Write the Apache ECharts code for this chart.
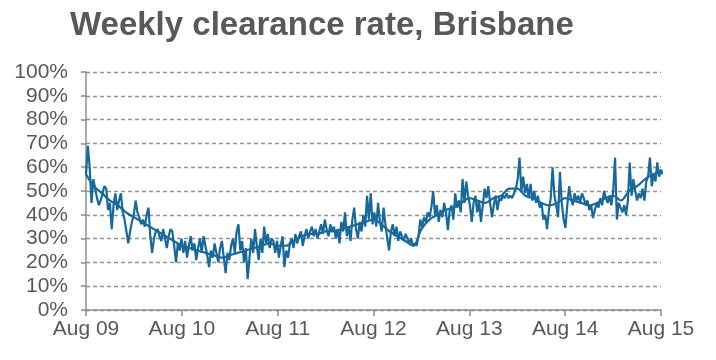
<!DOCTYPE html>
<html>
<head>
<meta charset="utf-8">
<script src="https://cdn.jsdelivr.net/npm/echarts@6/dist/echarts.min.js"></script>
<style>html,body{margin:0;padding:0;background:#fff;}#c{width:716px;height:360px;}</style>
</head>
<body>
<div id="c"></div>
<script>
// X tick labels (one per year, Aug 2009 .. Aug 2015)
const tickLabels = ['Aug 09','Aug 10','Aug 11','Aug 12','Aug 13','Aug 14','Aug 15'];
const weeksPerYear = 52.17;
const monthsPerYear = 12;

// Weekly clearance rate (%), Brisbane, weekly from Aug 2009
const weeklyRate = [
  57,69,60,45,55,51,47,44,46,49,52,51,42,
  45,34,44,49,42,46,49,41,38,33,28,33,37,
  40,46,41,39,36,38,35,40,43,31,24,30,33,
  34,31,29,34,30,26,31,34,33,27,20,28,25,
  30,24,29,22,27,31,25,28,21,26,30,24,31,
  27,23,18,25,22,28,24,20,26,29,22,15.5,24,
  21,27,30,24,33,36,25,29,20,26,13,22,30,
  24,34,27,21,30,24,35,28,32,26,30,29,24,
  29,22,27,31,18,25,22,28,30,26,32,28,31,
  33,27,31,34,30,33,35,31,34,30,33,36,32,
  38,34,31,36,33,35,30,34,28,37,33,41,31,
  35,29,38,43,34,30,37,33,40,35,48,38,49,
  36,41,35,45,37,33,43,36,30,25,33,36,31,
  35,29,33,31,29,32,30,28,30,27,28,27,31,
  38,35,39,37,41,39,43,50,40,44,37,42,39,
  45,41,33.6,42,44,38,49,43,46,41,55,45,54,
  48,44,37,45,48,41,46,37,44,51,47,52,45,
  39,44,48,42,47,46,48,47,49,47,48,47,49,
  51,55,64,50,56,49,53,47,53,46,50,45,48,
  43,45,38,40,34,42,47,60,48,44,39,58,45,
  38,34.5,44,52,47,44,49,46,48,45,49,47,44,
  46,42,44,38.6,42,45,43,47,44,50,47,45,48,
  44,50,64,38,45,43,41,44,40,46,62,48,55,
  50,46,49,47,51,46,54,56,64,52,57,54,62,
  56,59,57
];

// Smoothed trend (%), monthly from Aug 2009
const trendRate = [
  57,52,49,46,44,41,39,37,35,33,31,29,
  27,26,25,24,23,22,23,24,25,26,27,28,
  27,27,29,31,32,32,33,33,34,35,36,37,
  38,36,33,31,29,27,34,38,40,42,43,45,
  47,46,45,47,48,51,51,48,47,45,44,45,
  47,46,45,44,45,47,48,46,50,52,55,57,
  58
];

const weeklyData = weeklyRate.map((v, i) => [i / weeksPerYear, v]);
const trendData = trendRate.map((v, i) => [i / monthsPerYear, v]);

const textColor = '#595959';
const font = 'Liberation Sans, Arial, sans-serif';
const lineColor = '#17699B';

const chart = echarts.init(document.getElementById('c'), null, {renderer: 'canvas'});
chart.setOption({
  animation: false,
  backgroundColor: '#fff',
  title: {
    text: 'Weekly clearance rate, Brisbane',
    left: 65, top: 4,
    textStyle: {fontFamily: font, fontSize: 33, fontWeight: 'bold', color: textColor}
  },
  grid: {left: 86, right: 55, top: 72, bottom: 50, containLabel: false},
  xAxis: {
    type: 'value', min: 0, max: 6, interval: 1,
    axisLine: {show: true, lineStyle: {color: '#8c8c8c', width: 1.5}},
    axisTick: {show: true, length: 6, lineStyle: {color: '#8c8c8c', width: 1.5}},
    splitLine: {show: false},
    axisLabel: {
      formatter: v => tickLabels[Math.round(v)] || '',
      fontFamily: font, fontSize: 21, color: textColor, margin: 9
    }
  },
  yAxis: {
    type: 'value', min: 0, max: 100, interval: 10,
    axisLine: {show: true, lineStyle: {color: '#8c8c8c', width: 1.5}},
    axisTick: {show: true, length: 5, lineStyle: {color: '#8c8c8c', width: 1.5}},
    splitLine: {show: true, lineStyle: {color: '#929292', type: [4, 3], width: 1.3}},
    axisLabel: {formatter: '{value}%', fontFamily: font, fontSize: 21, color: textColor, margin: 18}
  },
  series: [
    {
      type: 'line', data: trendData, showSymbol: false, smooth: 0.3,
      lineStyle: {color: lineColor, width: 2.2}, z: 2
    },
    {
      type: 'line', data: weeklyData, showSymbol: false,
      lineStyle: {color: lineColor, width: 2.2}, z: 3
    }
  ]
});
</script>
</body>
</html>
